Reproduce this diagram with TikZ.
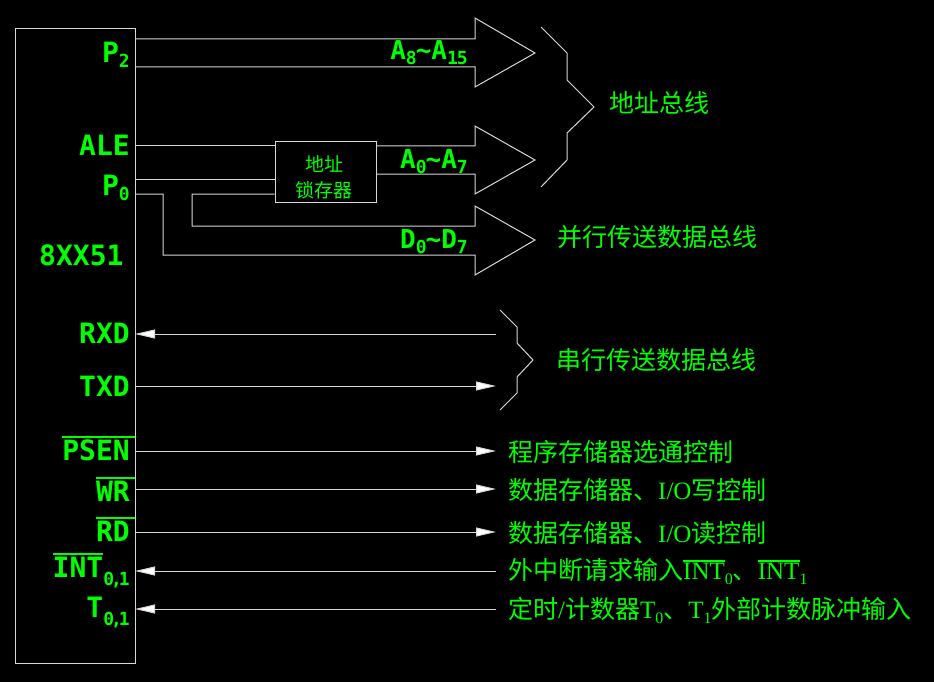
\documentclass[tikz,border=0pt]{standalone}
\usepackage{fontspec}
\setmainfont{Liberation Serif}
\newfontfamily\cjk{Noto Sans CJK SC}
\newfontfamily\lab{DejaVu Sans Mono}
\usetikzlibrary{arrows.meta}
\definecolor{grn}{RGB}{0,255,0}
\definecolor{ln}{RGB}{215,215,215}
\newcommand\msub[2][5pt]{\raisebox{-#1}{\fontsize{18}{18}\selectfont #2}}
\newcommand\ssub[1]{\raisebox{-5pt}{\fontsize{16}{16}\selectfont #1}}
\newcommand\ovl[2][0pt]{\vbox{\hrule height 2pt\kern 1.5pt\hbox{#2\kern#1}}}
\newcommand\zo{0\kern-3pt,\kern-3pt1}
\tikzset{
  wire/.style={draw=ln, line width=1pt, line join=miter},
  pin/.style={text=grn, font=\lab\bfseries\fontsize{28}{28}\selectfont, inner sep=0pt},
  buslab/.style={text=grn, font=\lab\bfseries\fontsize{26}{26}\selectfont, inner sep=0pt, anchor=base east},
  cn/.style={text=grn, font=\fontsize{25}{25}\selectfont, inner sep=0pt, anchor=west},
  tipend/.style={-{Triangle[length=20pt,width=9pt,fill=white]}},
}
\begin{document}
\begin{tikzpicture}[x=1pt,y=-1pt]
\fill[black] (0,0) rectangle (934,682);
\useasboundingbox (0,0) rectangle (934,682);
% chip
\node[wire, minimum width=120pt, minimum height=634pt, inner sep=0pt] (chip) at (75,346) {};
% latch
\node[wire, minimum width=101pt, minimum height=60pt, inner sep=0pt] (latch) at (325.5,172) {};
\node[text=grn, font=\cjk\fontsize{19}{26}\selectfont, align=center, inner sep=0pt] (latchtxt) at (324,177) {地址\\锁存器};
% pin coordinates
\coordinate (p2a) at (135,39);
\coordinate (p2b) at (135,67);
\coordinate (ale) at (135,146);
\coordinate (p0a) at (135,179);
\coordinate (p0b) at (135,194);
\coordinate (rxd) at (135,334);
\coordinate (txd) at (135,386);
\coordinate (psen) at (135,451);
\coordinate (wr) at (135,489);
\coordinate (rd) at (135,532);
\coordinate (int) at (135,571);
\coordinate (t01) at (135,609);
% pin labels
\node[pin, anchor=base east] (lp2) at (130,63) {P\msub{2}};
\node[pin, anchor=base east] (lale) at (130,155) {ALE};
\node[pin, anchor=base east] (lp0) at (130,195) {P\msub{0}};
\node[pin, anchor=base west] (lchip) at (39,265) {8XX51};
\node[pin, anchor=base east] (lrxd) at (130,343) {RXD};
\node[pin, anchor=base east] (ltxd) at (130,396) {TXD};
\node[pin, anchor=base east] (lpsen) at (135,460) {\ovl[5pt]{PSEN}};
\node[pin, anchor=base east] (lwr) at (135,501) {\ovl[5pt]{WR}};
\node[pin, anchor=base east] (lrd) at (135,541) {\ovl[5pt]{RD}};
\node[pin, anchor=base east] (lint) at (130,577) {\ovl{INT}\msub[8pt]{\zo}};
\node[pin, anchor=base east] (lt) at (130,617) {T\msub[8pt]{\zo}};
% bus labels
\node[buslab] (la815) at (468,60) {A\msub{8}\kern-1pt\char`\~A\msub{1\kern-1pt5}};
\node[buslab] (la07) at (468,168) {A\msub{0}\kern-1pt\char`\~A\msub{7}};
\node[buslab] (ld07) at (468,248) {D\msub{0}\kern-1pt\char`\~D\msub{7}};
% P2 bus arrow
\draw[wire] (p2a) -- (475,39) -- (475,18) -- (535,53) -- (475,87) -- (475,67) -- (p2b);
% ALE and P0 to latch
\draw[wire] (ale) -- (latch.west |- ale);
\draw[wire] (p0a) -- (latch.west |- p0a);
% A0~A7 arrow
\draw[wire] (latch.east |- 0,146) -- (475,146) -- (475,126) -- (535,160) -- (475,194) -- (475,174) -- (latch.east |- 0,174);
% D0~D7 arrow
\draw[wire] (latch.west |- p0b) -- (192,194) -- (192,226) -- (475,226) -- (475,206) -- (535,240) -- (475,275) -- (475,255) -- (163,255) -- (163,194) -- (p0b);
% braces
\draw[wire] (541,27) -- (567,53) -- (567,80) -- (594,107) -- (567,133) -- (567,160) -- (541,187);
\draw[wire] (500,310) -- (517,327) -- (517,343) -- (533,360) -- (517,377) -- (517,393) -- (500,410);
% serial and control lines
\coordinate (erxd) at (496,334);
\coordinate (etxd) at (496,386);
\coordinate (epsen) at (496,451);
\coordinate (ewr) at (496,489);
\coordinate (erd) at (496,532);
\coordinate (eint) at (496,571);
\coordinate (et01) at (496,609);
\draw[wire, tipend] (erxd) -- (rxd);
\draw[wire, tipend] (txd) -- (etxd);
\draw[wire, tipend] (psen) -- (epsen);
\draw[wire, tipend] (wr) -- (ewr);
\draw[wire, tipend] (rd) -- (erd);
\draw[wire, tipend] (eint) -- (int);
\draw[wire, tipend] (et01) -- (t01);
% descriptions
\node[cn] (taddr) at (609,103) {\cjk 地址总线};
\node[cn] (tpar) at (557,237) {\cjk 并行传送数据总线};
\node[cn] (tser) at (556,360) {\cjk 串行传送数据总线};
\node[cn] (tpsen) at (508,452) {\cjk 程序存储器选通控制};
\node[cn] (twr) at (508,490) {{\cjk 数据存储器、}I/O{\cjk 写控制}};
\node[cn] (trd) at (508,533) {{\cjk 数据存储器、}I/O{\cjk 读控制}};
\node[cn] (tint) at (508,572) {{\cjk 外中断请求输入}\ovl{INT}\ssub{0}{\cjk 、}\ovl{INT}\ssub{1}};
\node[cn] (tt) at (508,610) {{\cjk 定时}/{\cjk 计数器}T\ssub{0}{\cjk 、}T\ssub{1}{\cjk 外部计数脉冲输入}};
\end{tikzpicture}
\end{document}
